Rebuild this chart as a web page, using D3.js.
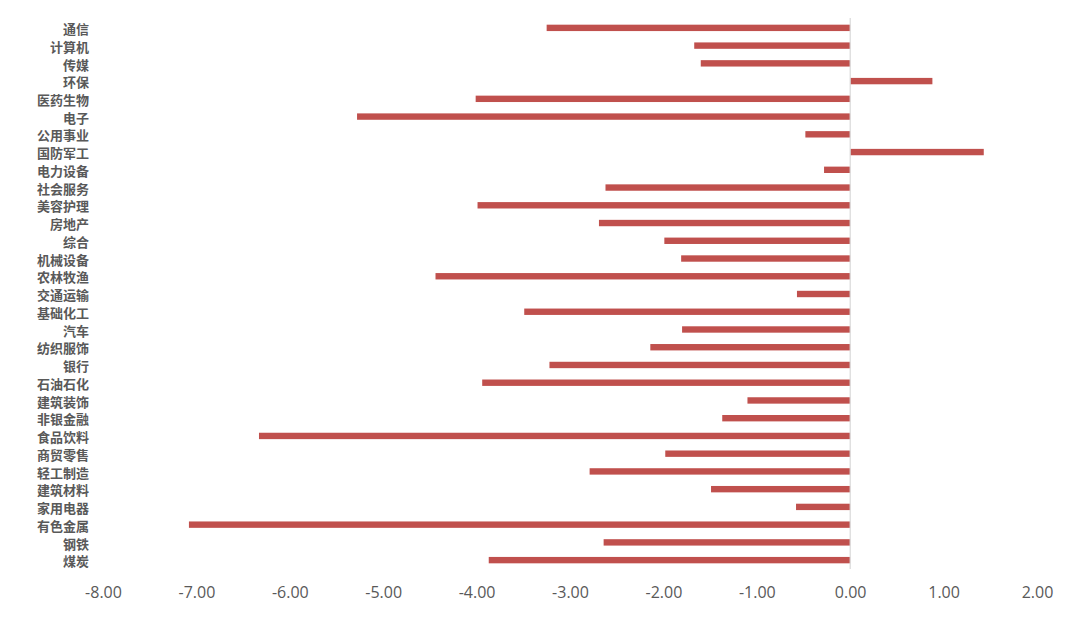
<!DOCTYPE html>
<html>
<head>
<meta charset="utf-8">
<script src="https://cdn.jsdelivr.net/npm/d3@7"></script>
<style>
  html, body { margin: 0; padding: 0; background: #fff; }
  svg { display: block; }
</style>
</head>
<body>
<svg id="chart" width="1080" height="617"></svg>
<script>
const categories = ["通信","计算机","传媒","环保","医药生物","电子","公用事业","国防军工","电力设备","社会服务","美容护理","房地产","综合","机械设备","农林牧渔","交通运输","基础化工","汽车","纺织服饰","银行","石油石化","建筑装饰","非银金融","食品饮料","商贸零售","轻工制造","建筑材料","家用电器","有色金属","钢铁","煤炭"];
const values = [-3.25,-1.67,-1.60,0.88,-4.01,-5.28,-0.48,1.43,-0.28,-2.62,-3.99,-2.69,-1.99,-1.81,-4.44,-0.57,-3.49,-1.80,-2.14,-3.22,-3.94,-1.10,-1.37,-6.33,-1.98,-2.79,-1.49,-0.58,-7.08,-2.64,-3.87];
const xTicks = [-8,-7,-6,-5,-4,-3,-2,-1,0,1,2];

const data = categories.map((c, i) => ({ cat: c, val: values[i] }));
const svg = d3.select("#chart");

const x = d3.scaleLinear().domain([-8, 2]).range([103, 1037]);
const y = d3.scaleBand().domain(categories).range([19, 569]).paddingInner(0.64).paddingOuter(0.32);

// bars
svg.append("g").selectAll("rect").data(data).join("rect")
  .attr("x", d => x(Math.min(0, d.val)))
  .attr("width", d => Math.abs(x(d.val) - x(0)))
  .attr("y", d => y(d.cat))
  .attr("height", y.bandwidth())
  .attr("fill", "#C0504D");

// zero axis line
svg.append("line")
  .attr("x1", x(0)).attr("x2", x(0))
  .attr("y1", 18).attr("y2", 569)
  .attr("stroke", "#D9D9D9").attr("stroke-width", 1.2);

// category labels
const yAxis = d3.axisLeft(y).tickSize(0).tickPadding(0);
const gy = svg.append("g").attr("transform", "translate(89,2)").call(yAxis);
gy.select(".domain").remove();
gy.selectAll("text")
  .attr("fill", "#595959")
  .style("font-family", "'Noto Sans CJK SC', sans-serif")
  .style("font-weight", "bold")
  .style("font-size", "13px");

// x axis labels
const fmt = d => d3.format(".2f")(d).replace("\u2212", "-");
const xAxis = d3.axisBottom(x).tickValues(xTicks).tickSize(0).tickPadding(0).tickFormat(fmt);
const gx = svg.append("g").attr("transform", "translate(0,587)").call(xAxis);
gx.select(".domain").remove();
gx.selectAll("text")
  .attr("fill", "#595959")
  .style("font-family", "'Open Sans', sans-serif")
  .style("font-size", "16px");
</script>
</body>
</html>
